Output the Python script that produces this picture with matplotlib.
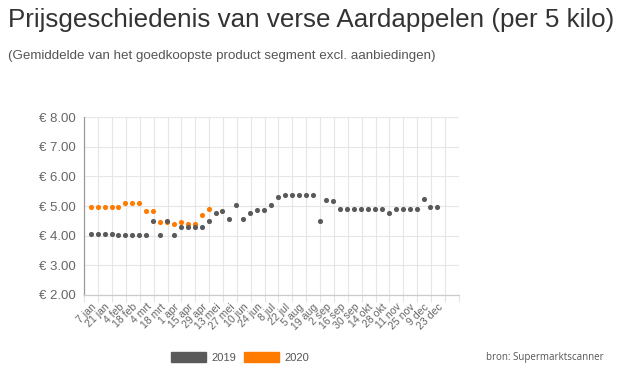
import numpy as np
import matplotlib
matplotlib.use('Agg')
import matplotlib.pyplot as plt
from matplotlib.patches import Patch

# Data: weekly average price (EUR per 5 kilo), week 0 = 7 jan
prices_2019 = [4.07, 4.07, 4.07, 4.07, 4.02, 4.02, 4.02, 4.02, 4.02, 4.50,
               4.02, 4.50, 4.02, 4.28, 4.28, 4.28, 4.28, 4.50, 4.76, 4.82,
               4.56, 5.04, 4.56, 4.76, 4.86, 4.86, 5.04, 5.30, 5.39, 5.39,
               5.39, 5.39, 5.39, 4.48, 5.20, 5.17, 4.90, 4.90, 4.90, 4.90,
               4.90, 4.90, 4.90, 4.76, 4.90, 4.90, 4.90, 4.90, 5.24, 4.97,
               4.97]
prices_2020 = [4.97, 4.97, 4.97, 4.97, 4.97, 5.11, 5.11, 5.11, 4.82, 4.82,
               4.47, 4.47, 4.41, 4.47, 4.41, 4.41, 4.70, 4.90]
week_labels = ['7 jan', '21 jan', '4 feb', '18 feb', '4 mrt', '18 mrt', '1 apr',
               '15 apr', '29 apr', '13 mei', '27 mei', '10 jun', '24 jun',
               '8 jul', '22 jul', '5 aug', '19 aug', '2 sep', '16 sep', '30 sep',
               '14 okt', '28 okt', '11 nov', '25 nov', '9 dec', '23 dec']
y_ticks = [2, 3, 4, 5, 6, 7, 8]

c2019 = '#5a5a5a'
c2020 = '#ff7b00'
txt = '#666666'

plt.rcParams['font.family'] = ['Liberation Sans', 'DejaVu Sans']

fig = plt.figure(figsize=(6.25, 3.7), dpi=100)
ax = fig.add_axes([0.135, 0.203, 0.599, 0.480])

ax.plot(np.arange(len(prices_2020)), prices_2020, 'o', color=c2020,
        markersize=3.7, markeredgewidth=0, zorder=3)
ax.plot(np.arange(len(prices_2019)), prices_2019, 'o', color=c2019,
        markersize=3.7, markeredgewidth=0, zorder=4)

ax.set_xlim(-0.92, 53.08)
ax.set_ylim(2, 8)

# labels every two weeks, gridlines between
ax.set_xticks(np.arange(0, 2 * len(week_labels), 2))
ax.set_xticklabels(week_labels, rotation=45, ha='right', va='top',
                   rotation_mode='anchor', fontsize=7.6, color=txt)
ax.set_xticks(np.arange(-0.92, 53.1, 2), minor=True)
ax.tick_params(axis='x', which='major', length=0, pad=5)
ax.tick_params(axis='x', which='minor', length=5, color='#e3e3e3', width=0.8)

ax.set_yticks(y_ticks)
ax.set_yticklabels(['€ %.2f' % v for v in y_ticks], fontsize=9.5, color=txt)
ax.tick_params(axis='y', length=0, pad=6)

ax.grid(True, which='minor', axis='x', color='#e6e6e6', lw=0.8)
ax.grid(True, which='major', axis='y', color='#e6e6e6', lw=0.8)
ax.set_axisbelow(True)

for s in ['top', 'right']:
    ax.spines[s].set_visible(False)
ax.spines['left'].set_color('#9a9a9a')
ax.spines['bottom'].set_color('#cccccc')
ax.spines['left'].set_linewidth(0.9)
ax.spines['bottom'].set_linewidth(0.9)

fig.text(0.013, 0.945, 'Prijsgeschiedenis van verse Aardappelen (per 5 kilo)',
         fontsize=18.7, color='#333333', va='center', ha='left')
fig.text(0.013, 0.848, '(Gemiddelde van het goedkoopste product segment excl. aanbiedingen)',
         fontsize=9.6, color='#555555', va='center', ha='left')

handles = [Patch(color=c2019, label='2019'), Patch(color=c2020, label='2020')]
fig.legend(handles=handles, loc='center left', bbox_to_anchor=(0.258, 0.035),
           ncol=2, frameon=False, fontsize=8, handlelength=3.15,
           handleheight=1.08, handletextpad=0.45, columnspacing=0.72,
           labelcolor='#555555')

fig.text(0.965, 0.035, 'bron: Supermarktscanner', fontsize=7,
         family=['Open Sans', 'DejaVu Sans'], color='#555555',
         ha='right', va='center')

fig.savefig('out.png', dpi=100)
